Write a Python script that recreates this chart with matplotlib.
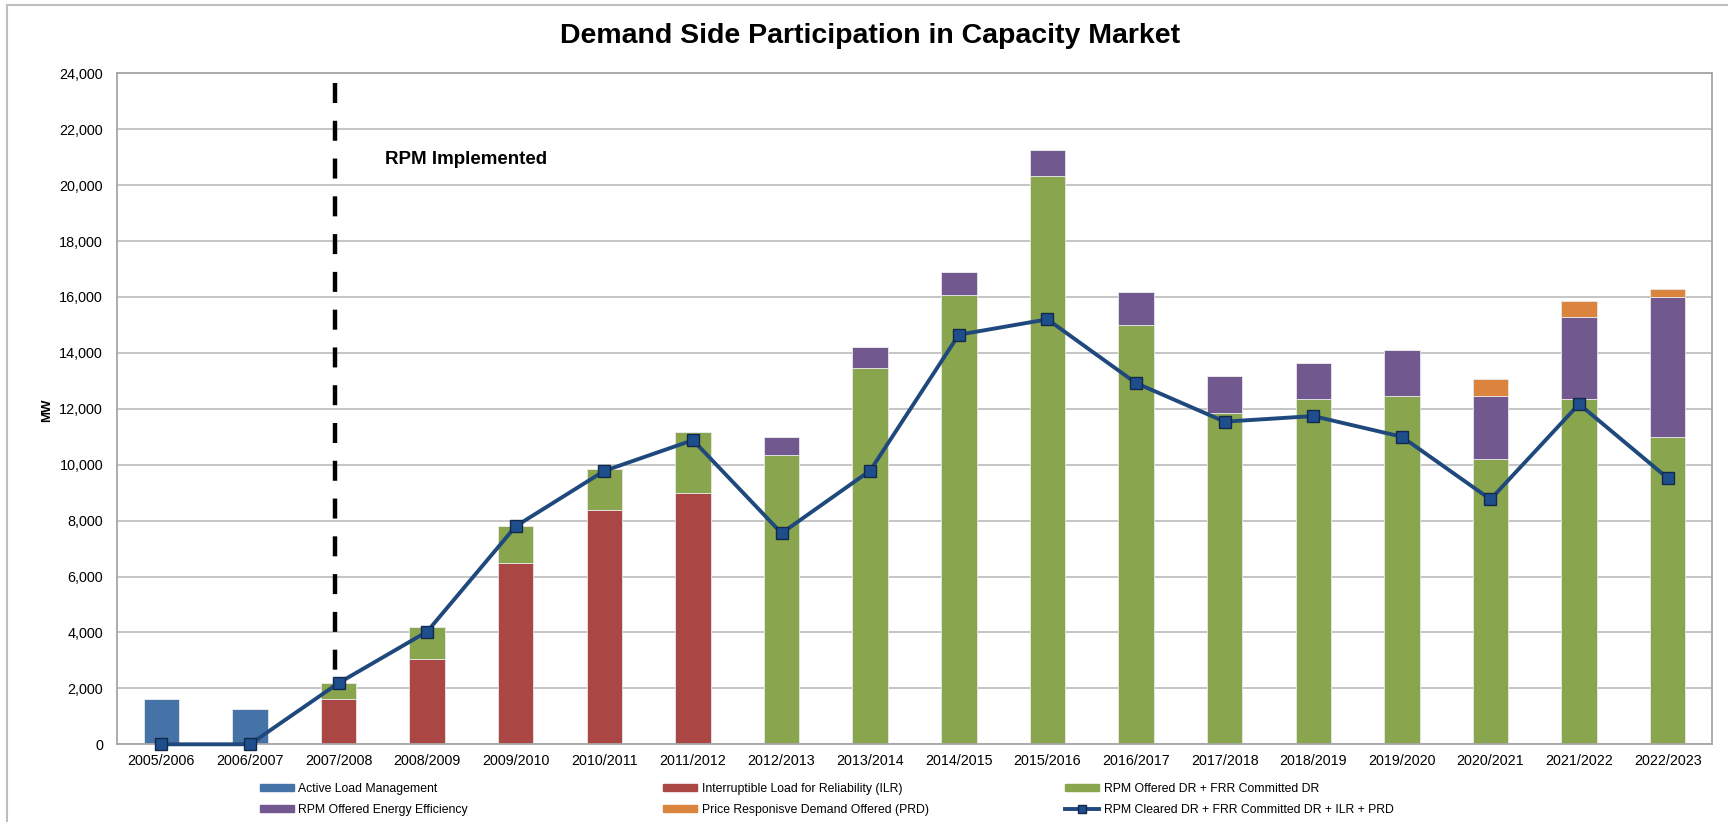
import matplotlib
matplotlib.use('Agg')
import matplotlib.pyplot as plt
import numpy as np
from matplotlib.lines import Line2D
from matplotlib.patches import Patch
from matplotlib.ticker import FuncFormatter

plt.rcParams['font.family'] = ['Liberation Sans', 'DejaVu Sans']

years = ['2005/2006', '2006/2007', '2007/2008', '2008/2009', '2009/2010', '2010/2011',
         '2011/2012', '2012/2013', '2013/2014', '2014/2015', '2015/2016', '2016/2017',
         '2017/2018', '2018/2019', '2019/2020', '2020/2021', '2021/2022', '2022/2023']

# MW values
alm = [1610, 1250, 0, 0, 0, 0, 0, 0, 0, 0, 0, 0, 0, 0, 0, 0, 0, 0]
ilr = [0, 0, 1620, 3040, 6470, 8370, 9000, 0, 0, 0, 0, 0, 0, 0, 0, 0, 0, 0]
rpm_dr = [0, 0, 580, 1160, 1350, 1460, 2170, 10340, 13460, 16070, 20310, 15000,
          11850, 12340, 12470, 10200, 12360, 10980]
rpm_ee = [0, 0, 0, 0, 0, 0, 0, 650, 740, 820, 950, 1170,
          1330, 1290, 1630, 2250, 2930, 5030]
prd = [0, 0, 0, 0, 0, 0, 0, 0, 0, 0, 0, 0, 0, 0, 0, 620, 580, 260]
cleared = [0, 0, 2190, 4030, 7800, 9780, 10880, 7550, 9790, 14650, 15200, 12920,
           11540, 11740, 11000, 8760, 12170, 9520]

series = [
    ('Active Load Management', alm, '#4572A7'),
    ('Interruptible Load for Reliability (ILR)', ilr, '#AA4643'),
    ('RPM Offered DR + FRR Committed DR', rpm_dr, '#89A54E'),
    ('RPM Offered Energy Efficiency', rpm_ee, '#71588F'),
    ('Price Responisve Demand Offered (PRD)', prd, '#DB843D'),
]
line_label = 'RPM Cleared DR + FRR Committed DR + ILR + PRD'
line_color = '#1F497D'

fig = plt.figure(figsize=(17.28, 8.22), dpi=100)
ax = fig.add_axes([117 / 1728, 1 - 744.3 / 822, (1712 - 117) / 1728, (744.3 - 73.3) / 822])

x = np.arange(len(years))
bottom = np.zeros(len(years))
for name, vals, col in series:
    vals = np.array(vals, dtype=float)
    ax.bar(x, vals, width=0.4, bottom=bottom, color=col, edgecolor='#e8e8e8',
           linewidth=0.6, zorder=2)
    bottom += vals

ax.plot(x, cleared, color=line_color, lw=2.8, marker='s', markersize=8.5,
        markerfacecolor='#1F4E8C', markeredgecolor='#13294B', markeredgewidth=1.0,
        zorder=4, clip_on=False)

# RPM start marker, drawn top-down so the dash pattern starts at the top
ax.plot([1.96, 1.96], [23650, 2250], color='black', ls=(0, (4.5, 4)), lw=3.2, zorder=3)
ax.text(2.52, 20930, 'RPM Implemented', fontsize=13.5, fontweight='bold',
        ha='left', va='center')

ax.set_xlim(-0.5, len(years) - 0.5)
ax.set_ylim(0, 24000)
ax.set_yticks(np.arange(0, 24001, 2000))
ax.yaxis.set_major_formatter(FuncFormatter(lambda v, p: f'{int(v):,}'))
ax.set_xticks(x)
ax.set_xticklabels(years)
ax.tick_params(axis='y', length=0, pad=10, labelsize=10.4)
ax.tick_params(axis='x', length=0, pad=7, labelsize=10.3)
ax.grid(axis='y', color='#c0c0c0', lw=1.3, zorder=0)
ax.set_axisbelow(True)
for s in ax.spines.values():
    s.set_color('#a6a6a6')
    s.set_linewidth(1.3)

fig.text(46.7 / 1728, 1 - 410 / 822, 'MW', rotation=90, fontsize=9.5,
         fontweight='bold', ha='center', va='center')
fig.text(870 / 1728, 1 - 36.4 / 822, 'Demand Side Participation in Capacity Market',
         fontsize=20.5, fontweight='bold', ha='center', va='center')

# outer frame of the chart area
fig.add_artist(Line2D([7 / 1728, 7 / 1728], [0, 1 - 5 / 822], transform=fig.transFigure,
                      color='#bfbfbf', lw=1.5))
fig.add_artist(Line2D([7 / 1728, 1], [1 - 5 / 822, 1 - 5 / 822], transform=fig.transFigure,
                      color='#bfbfbf', lw=1.5))

# legend, three columns placed separately
line_handle = Line2D([], [], color=line_color, lw=2.8, marker='s', markersize=6,
                     markerfacecolor='#1F4E8C', markeredgecolor='#13294B')
handles = [Patch(color=c) for _, _, c in series]
labels = [n for n, _, _ in series]
cols = [
    ([handles[0], handles[3]], [labels[0], labels[3]], 260),
    ([handles[1], handles[4]], [labels[1], labels[4]], 663),
    ([handles[2], line_handle], [labels[2], line_label], 1065),
]
for hs, ls, xpx in cols:
    fig.legend(hs, ls, loc='upper left', bbox_to_anchor=(xpx / 1728, 1 - 783 / 822),
               frameon=False, fontsize=8.8, borderpad=0, borderaxespad=0,
               handlelength=2.8, handleheight=0.5, handletextpad=0.35,
               labelspacing=0.75)

fig.savefig('out.png', dpi=100)
